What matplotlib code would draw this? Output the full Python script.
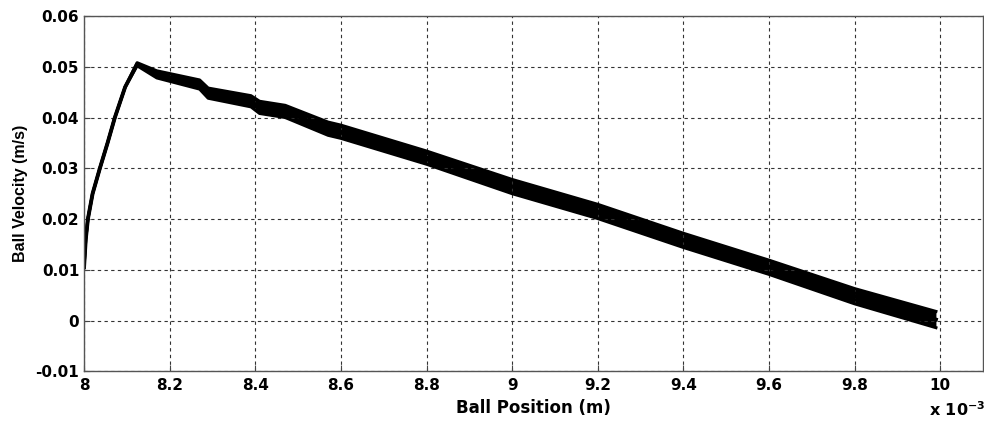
import numpy as np
import matplotlib
matplotlib.use("Agg")
import matplotlib.pyplot as plt

plt.rcParams['font.family'] = ['DejaVu Sans']
plt.rcParams['font.weight'] = 'bold'

# ball position (x 10^-3 m) and mean velocity (m/s) along the trace
pos = [8.000, 8.004, 8.009, 8.020, 8.037, 8.055, 8.072, 8.096, 8.124,
       8.17, 8.27, 8.29, 8.39, 8.41, 8.47, 8.57, 8.60, 8.80, 9.00,
       9.20, 9.40, 9.60, 9.80, 9.99]
vel = [0.0105, 0.016, 0.020, 0.025, 0.030, 0.035, 0.040, 0.046, 0.0505,
       0.0485, 0.0465, 0.0448, 0.0432, 0.0420, 0.0412, 0.0378, 0.0372, 0.0321, 0.0264,
       0.0215, 0.0158, 0.0105, 0.0048, 0.0002]
# half height of the ripple band around the mean velocity
ripple = [0.0, 0.0, 0.0, 0.0, 0.0, 0.0, 0.0, 0.0, 0.0003,
          0.0007, 0.0009, 0.0010, 0.0011, 0.0012, 0.0012, 0.0013, 0.0013, 0.0013, 0.0014,
          0.0014, 0.0014, 0.0014, 0.0015, 0.0016]

xticks = [8, 8.2, 8.4, 8.6, 8.8, 9, 9.2, 9.4, 9.6, 9.8, 10]
yticks = [-0.01, 0, 0.01, 0.02, 0.03, 0.04, 0.05, 0.06]
ylabels = ['-0.01', '0', '0.01', '0.02', '0.03', '0.04', '0.05', '0.06']

pos = np.array(pos)
vel = np.array(vel)
ripple = np.array(ripple)

fig = plt.figure(figsize=(9.84, 4.21), dpi=100)
ax = fig.add_axes([0.0854, 0.118, 0.9136, 0.844])

ax.fill_between(pos, vel - ripple, vel + ripple, color='black', lw=0)
ax.plot(pos, vel + ripple, color='black', lw=2.2)
ax.plot(pos, vel - ripple, color='black', lw=2.2)
ax.plot(pos, vel, color='black', lw=2.8)

ax.set_xlim(8, 10.1)
ax.set_ylim(-0.01, 0.06)
ax.set_xticks(xticks)
ax.set_xticklabels([('%g' % t) for t in xticks])
ax.set_yticks(yticks)
ax.set_yticklabels(ylabels)
ax.tick_params(direction='in', length=4, labelsize=11, color='#444444')
ax.tick_params(axis='x', pad=5)

ax.grid(True, color='#333333', linestyle=(0, (3, 3)), lw=0.8)
for s in ax.spines.values():
    s.set_color('#555555')
    s.set_linewidth(1.0)

ax.set_xlabel('Ball Position (m)', fontsize=12, fontweight='bold', labelpad=4)
ax.set_ylabel('Ball Velocity (m/s)', fontsize=11.5, fontweight='bold',
              labelpad=5, family='Liberation Sans')
fig.text(0.944, 0.012, r'x 10$^{\mathbf{-3}}$', fontsize=11.5, fontweight='bold')

fig.savefig('out.png', dpi=100)
